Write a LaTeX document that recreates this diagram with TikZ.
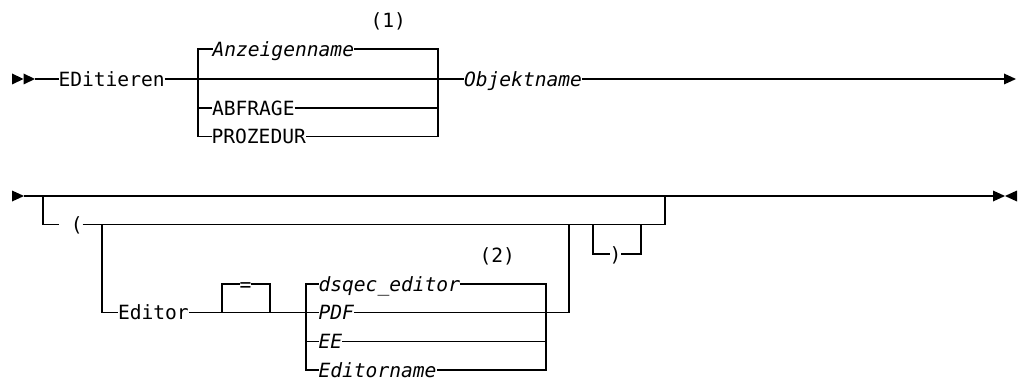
\documentclass[tikz,border=0pt]{standalone}
\usepackage{fontspec}
\newfontfamily\rrmono{DejaVu Sans Mono}
\begin{document}
\begin{tikzpicture}[x=1pt,y=-1pt,
  rr/.style={line width=1.2pt, line join=miter},
  kw/.style={inner sep=0pt, outer sep=0pt, text height=14.4pt, text depth=0pt, anchor=west,
    font=\rrmono\fontsize{19.6}{24}\selectfont},
  var/.style={kw, font=\rrmono\fontsize{19.6}{24}\selectfont\itshape},
  tip/.style={fill=black}]
\useasboundingbox (0,0) rectangle (1019,382);
% ---------- row 1 ----------
\coordinate (s1) at (35,79);
\coordinate (e1) at (1004,79);
\coordinate (b1L) at (198,79);
\coordinate (b1R) at (438,79);
\node[kw]  (edit) at (58.5,79)  {EDitieren};
\node[var] (anz)  at (212.5,49) {Anzeigenname};
\node[kw]  (abf)  at (212,108)  {ABFRAGE};
\node[kw]  (proz) at (211.5,136.5) {PROZEDUR};
\node[kw]  (n1)   at (370.5,20.3) {(1)};
\node[var] (obj)  at (464,79)   {Objektname};
\fill[tip] (12,73.5) -- (23.5,79) -- (12,84.5) -- cycle;
\fill[tip] (23.5,73.5) -- (35,79) -- (23.5,84.5) -- cycle;
\fill[tip] (1004,73.5) -- (1016,79) -- (1004,84.5) -- cycle;
\draw[rr] (s1) -- (edit.west);
\draw[rr] (edit.east) -- (obj.west);
\draw[rr] (anz.west) -| (proz.west -| b1L) -- (proz.west);
\draw[rr] (abf.west -| b1L) -- (abf.west);
\draw[rr] (anz.east) -| (proz.east -| b1R) -- (proz.east);
\draw[rr] (abf.east) -- (abf.east -| b1R);
\draw[rr] (obj.east) -- (e1);
% ---------- row 2 ----------
\coordinate (s2) at (24,196);
\coordinate (e2) at (993,196);
\coordinate (a2L) at (43,196);
\coordinate (a2R) at (665,196);
\coordinate (i2L) at (102,224.5);
\coordinate (i2R) at (569,224.5);
\coordinate (rL) at (593,224.5);
\coordinate (rR) at (641,224.5);
\coordinate (eqL) at (222,312.5);
\coordinate (eqR) at (270,312.5);
\coordinate (cL) at (306,312.5);
\coordinate (cR) at (546,312.5);
\node[kw]  (lpar)   at (59,224.5)  {\phantom{(}(};
\node[kw]  (editor) at (118,312.5) {Editor};
\node[kw, anchor=center] (eq) at (245.5,284) {=};
\node[kw]  (n2)     at (479.5,255.3) {(2)};
\node[var] (dsq)    at (318.5,284)   {dsqec\_editor};
\node[var] (pdf)    at (318.5,312.5) {PDF};
\node[var] (ee)     at (318.5,341.7) {EE};
\node[var] (edn)    at (318.5,370)   {Editorname};
\node[kw, anchor=center] (rpar) at (615.5,254) {)};
\fill[tip] (12,190.5) -- (24,196) -- (12,201.5) -- cycle;
\fill[tip] (993,190.5) -- (1005,196) -- (993,201.5) -- cycle;
\fill[tip] (1017,190.5) -- (1005,196) -- (1017,201.5) -- cycle;
\draw[rr] (s2) -- (e2);
\draw[rr] (a2L) |- (lpar.west);
\draw[rr] (lpar.east) -| (a2R);
\draw[rr] (i2L) |- (editor.west);
\draw[rr] (editor.east) -- (pdf.west);
\draw[rr] (eqL) |- (eq.west);
\draw[rr] (eq.east) -| (eqR);
\draw[rr] (dsq.west) -| (edn.west -| cL) -- (edn.west);
\draw[rr] (ee.west -| cL) -- (ee.west);
\draw[rr] (dsq.east) -| (edn.east -| cR) -- (edn.east);
\draw[rr] (ee.east) -- (ee.east -| cR);
\draw[rr] (pdf.east) -| (i2R);
\draw[rr] (rL) |- (rpar.west);
\draw[rr] (rpar.east) -| (rR);
\end{tikzpicture}
\end{document}
